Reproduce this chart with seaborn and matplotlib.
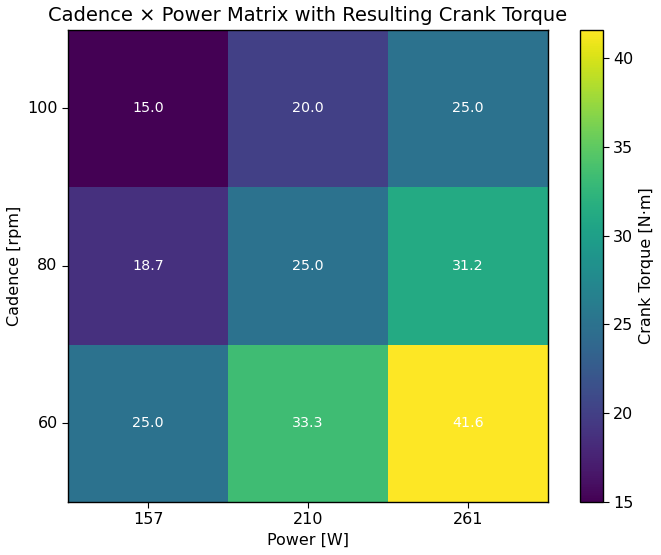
import pandas as pd
import seaborn as sns
import matplotlib.pyplot as plt
import numpy as np

cadence = [100, 80, 60]
power = [157, 210, 261]
torque_100 = [15.0, 20.0, 25.0]
torque_80 = [18.7, 25.0, 31.2]
torque_60 = [25.0, 33.3, 41.6]

df = pd.DataFrame([torque_100, torque_80, torque_60], index=cadence, columns=power)

fig = plt.figure(figsize=(6.61, 5.55), dpi=100)
ax = fig.add_axes([0.103, 0.0955, 0.726, 0.851])
cax = fig.add_axes([0.877, 0.0955, 0.035, 0.851])

sns.heatmap(df, ax=ax, cbar_ax=cax, cmap='viridis', vmin=15, vmax=41.6,
            annot=True, fmt='.1f', annot_kws={'color': 'white', 'fontsize': 10.3})

for s in ax.spines.values():
    s.set_visible(True)
    s.set_color('black')
    s.set_linewidth(1)

ax.set_xlabel('Power [W]', fontsize=11.5)
ax.set_ylabel('Cadence [rpm]', fontsize=11.5)
ax.set_title('Cadence × Power Matrix with Resulting Crank Torque', fontsize=14)
ax.tick_params(axis='both', labelsize=11.5, length=4)
ax.tick_params(axis='y', rotation=0)

cbar = ax.collections[0].colorbar
cbar.set_label('Crank Torque [N·m]', fontsize=11.5)
cbar.ax.tick_params(labelsize=11.5, length=4)
cbar.outline.set_visible(True)
cbar.outline.set_edgecolor('black')
cbar.outline.set_linewidth(1)

fig.savefig('out.png', dpi=100)
